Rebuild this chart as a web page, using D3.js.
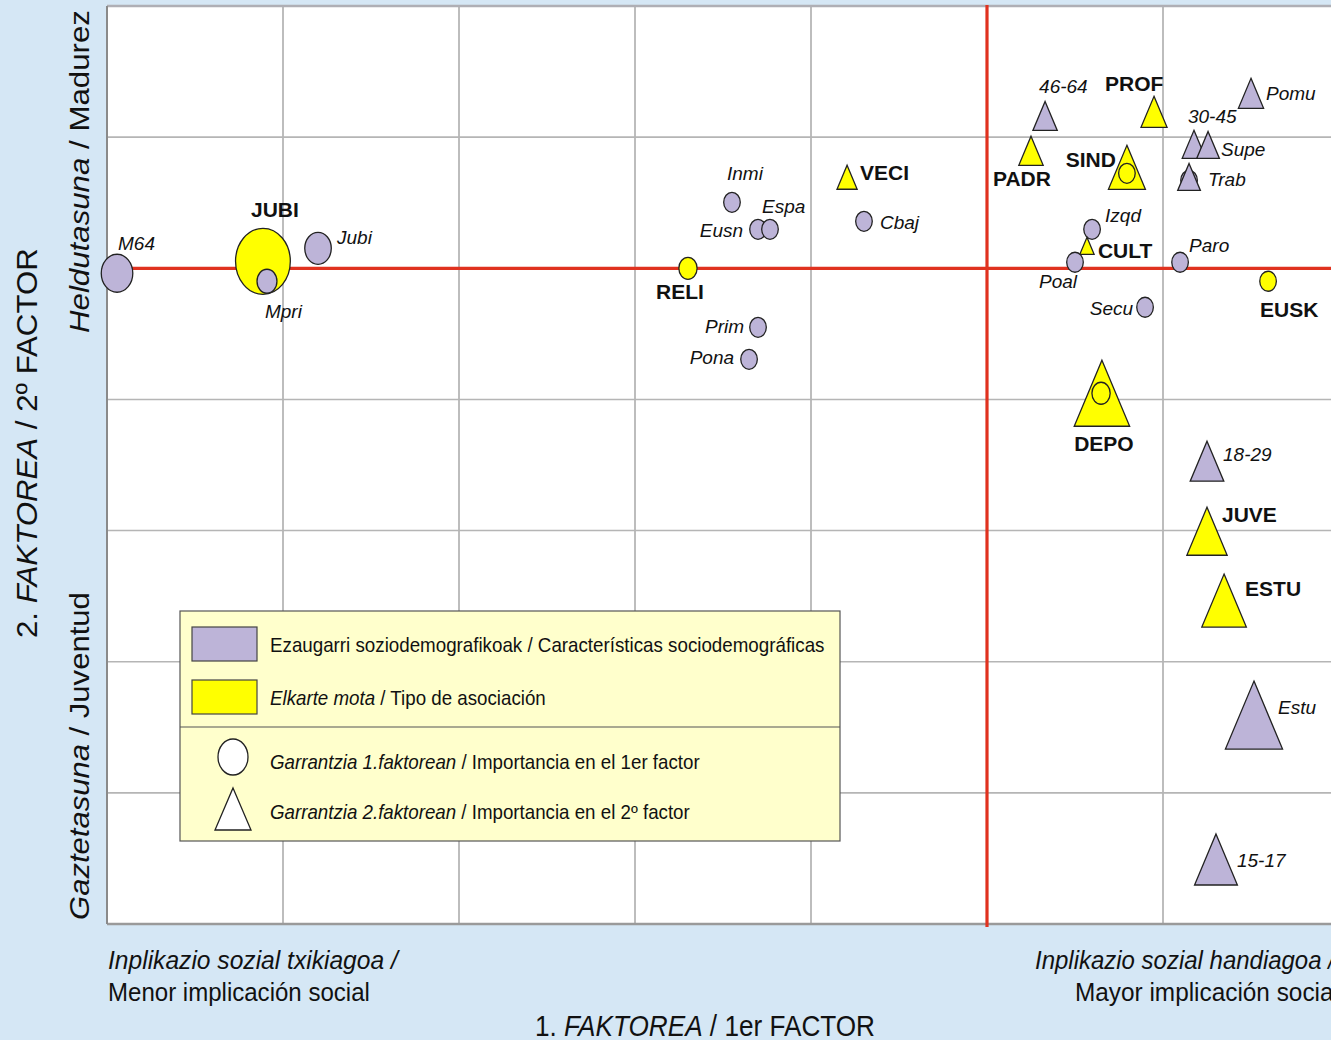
<!DOCTYPE html>
<html><head><meta charset="utf-8">
<script src="https://cdn.jsdelivr.net/npm/d3@7"></script>
<style>html,body{margin:0;padding:0;background:#D5E7F5;overflow:hidden}</style>
</head><body>
<svg id="chart" width="1331" height="1040"></svg>
<script>
// ---------- DATA ----------
const names   = ["M64","JUBI","Mpri","Jubi","RELI","Inmi","Eusn","Espa","Prim","Pona","Cbaj","VECI","46-64","PADR","PROF","SIND","Izqd","CULT","Poal","Secu","Trab","30-45","Supe","Pomu","Paro","EUSK","DEPO","18-29","JUVE","ESTU","Estu","15-17"];
const groups  = ["socio","assoc","socio","socio","assoc","socio","socio","socio","socio","socio","socio","assoc","socio","assoc","assoc","assoc","socio","assoc","socio","socio","socio","socio","socio","socio","socio","assoc","assoc","socio","assoc","assoc","socio","socio"];
const shapes  = ["c","c","c","c","c","c","c","c","c","c","c","t","t","t","t","t","c","t","c","c","t","t","t","t","c","c","t","t","t","t","t","t"];
const factor1 = [-4.943,-4.114,-4.091,-3.801,-1.699,-1.449,-1.301,-1.233,-1.301,-1.352,-0.699,-0.795,0.330,0.250,0.949,0.795,0.597,0.568,0.500,0.898,1.148,1.176,1.256,1.500,1.097,1.597,0.653,1.250,1.250,1.347,1.517,1.301];
const factor2 = [-0.038,0.053,-0.099,0.152,0.000,0.503,0.297,0.297,-0.450,-0.694,0.358,0.694,1.162,0.896,1.193,0.770,0.297,0.171,0.046,-0.297,0.697,0.945,0.941,1.334,0.046,-0.099,-0.953,-1.471,-2.005,-2.534,-3.407,-4.508];
const contrib = [7.6,13.2,4.8,6.4,4.4,4.0,4.0,4.0,4.0,4.0,4.0,4.8,5.8,5.8,6.2,8.8,4.0,3.4,4.0,4.0,5.4,5.6,5.4,6.0,4.0,4.0,13.2,8.0,9.6,10.6,13.6,10.2];

// secondary circles (importance on 1st factor) for points also shown as triangles
const dualNames   = ["Trab","SIND","DEPO"];
const dualGroups  = ["socio","assoc","assoc"];
const dualFactor1 = [1.148,0.795,0.648];
const dualFactor2 = [0.671,0.724,-0.953];
const dualContrib = [4.0,4.0,4.4];
const dualOnTop   = [false,true,true];

const gridX = [-4,-3,-2,-1,1];
const gridY = [1,-1,-2,-3,-4];

const legendItems = [
  [{t:"Ezaugarri soziodemografikoak / Características sociodemográficas"}],
  [{t:"Elkarte mota",i:true},{t:" / Tipo de asociación"}],
  [{t:"Garrantzia 1.faktorean",i:true},{t:" / Importancia en el 1er factor"}],
  [{t:"Garrantzia 2.faktorean",i:true},{t:" / Importancia en el 2º factor"}]
];

// ---------- LAYOUT ----------
const labelLayout = {
  "M64":[1,-23,"start"],"JUBI":[12,-44,"middle"],"Mpri":[-2,37,"start"],"Jubi":[19,-4,"start"],
  "RELI":[-32,31,"start"],"Inmi":[-5,-22,"start"],"Eusn":[-15,8,"end"],"Espa":[-8,-16,"start"],
  "Prim":[-14,6,"end"],"Pona":[-15,5,"end"],"Cbaj":[16,8,"start"],"VECI":[13,3,"start"],
  "46-64":[-6,-23,"start"],"PADR":[-38,35,"start"],"PROF":[-49,-21,"start"],"SIND":[-11,0,"end"],
  "Izqd":[13,-7,"start"],"CULT":[11,12,"start"],"Poal":[-36,26,"start"],"Secu":[-12,8,"end"],
  "Trab":[19,9,"start"],"30-45":[-6,-21,"start"],"Supe":[13,11,"start"],"Pomu":[15,7,"start"],
  "Paro":[9,-10,"start"],"EUSK":[-8,36,"start"],"DEPO":[2,58,"middle"],"18-29":[16,0,"start"],
  "JUVE":[15,-9,"start"],"ESTU":[21,-5,"start"],"Estu":[24,-1,"start"],"15-17":[21,8,"start"]
};
const FONT = "'Liberation Sans', Arial, Helvetica, sans-serif";
const fillOf = {socio:"#BDB4D8", assoc:"#FFFF00"};

const svg = d3.select("#chart");
const W = 1331, H = 1040;
const x = d3.scaleLinear().domain([-5,2]).range([107,1339]);
const y = d3.scaleLinear().domain([-5,2]).range([924,6]);
const rS = d3.scaleLinear().domain([0,10]).range([0,25]);

svg.append("rect").attr("width",W).attr("height",H).attr("fill","#D5E7F5");
svg.append("rect").attr("x",x(-5)).attr("y",y(2)).attr("width",x(2)-x(-5)).attr("height",y(-5)-y(2)).attr("fill","#fff");

// grid
svg.append("g").selectAll("line").data(gridX).join("line")
  .attr("x1",d=>x(d)).attr("x2",d=>x(d)).attr("y1",y(2)).attr("y2",y(-5))
  .attr("stroke","#BDBDBD").attr("stroke-width",2);
svg.append("g").selectAll("line").data(gridY).join("line")
  .attr("x1",x(-5)).attr("x2",x(2)).attr("y1",d=>y(d)).attr("y2",d=>y(d))
  .attr("stroke","#B5B5B5").attr("stroke-width",1.6);
// frame
svg.append("line").attr("x1",x(-5)).attr("x2",x(2)).attr("y1",y(2)).attr("y2",y(2)).attr("stroke","#AFAFB5").attr("stroke-width",2.5);
svg.append("line").attr("x1",x(-5)).attr("x2",x(2)).attr("y1",y(-5)).attr("y2",y(-5)).attr("stroke","#9A9A9A").attr("stroke-width",2.5);
svg.append("line").attr("x1",x(-5)).attr("x2",x(-5)).attr("y1",y(2)).attr("y2",y(-5)).attr("stroke","#8A8A8A").attr("stroke-width",2);
// red axes
svg.append("line").attr("x1",x(-5)).attr("x2",x(2)).attr("y1",y(0)).attr("y2",y(0)).attr("stroke","#E0321F").attr("stroke-width",3.2);
svg.append("line").attr("x1",x(0)).attr("x2",x(0)).attr("y1",y(2)-1).attr("y2",y(-5)+3).attr("stroke","#E0321F").attr("stroke-width",3.2);

// marks
const pts = names.map((n,i)=>({name:n,group:groups[i],shape:shapes[i],f1:factor1[i],f2:factor2[i],c:contrib[i]}));
const duals = dualNames.map((n,i)=>({name:n,group:dualGroups[i],shape:"c",f1:dualFactor1[i],f2:dualFactor2[i],c:dualContrib[i],top:dualOnTop[i]}));

function drawMark(g, d){
  const cx = x(d.f1), cy = y(d.f2);
  if(d.shape==="c"){
    const ry = rS(d.c), rx = ry*0.83;
    g.append("ellipse").attr("cx",cx).attr("cy",cy).attr("rx",rx).attr("ry",ry)
      .attr("fill",d.top?"none":fillOf[d.group]).attr("stroke","#222").attr("stroke-width",1.3);
  } else {
    const h = 2*rS(d.c), hw = h*0.42;
    g.append("path").attr("d",`M${cx},${cy-h/2}L${cx+hw},${cy+h/2}L${cx-hw},${cy+h/2}Z`)
      .attr("fill",fillOf[d.group]).attr("stroke","#222").attr("stroke-width",1.3).attr("stroke-linejoin","miter");
  }
}
const gm = svg.append("g");
duals.filter(d=>!d.top).forEach(d=>drawMark(gm,d));
pts.forEach(d=>drawMark(gm,d));
duals.filter(d=>d.top).forEach(d=>drawMark(gm,d));

// labels
const gl = svg.append("g");
pts.forEach(d=>{
  const L = labelLayout[d.name];
  const bold = d.group==="assoc";
  gl.append("text").attr("x",x(d.f1)+L[0]).attr("y",y(d.f2)+L[1]).attr("text-anchor",L[2])
    .attr("font-family",FONT).attr("font-size",bold?21:19)
    .attr("font-weight",bold?"bold":"normal").attr("font-style",bold?"normal":"italic")
    .attr("fill","#111").text(d.name);
});

// fitted (condensed) text helper
function fitted(parent, px, py, parts, size, target, anchor, rot){
  const g = parent.append("g");
  const t = g.append("text").attr("font-family",FONT).attr("font-size",size).attr("fill","#111").attr("x",0).attr("y",0);
  parts.forEach(p=>t.append("tspan").attr("font-style",p.i?"italic":"normal").text(p.t));
  const w = t.node().getComputedTextLength();
  const k = target/w;
  const tx = anchor==="end" ? -target : anchor==="middle" ? -target/2 : 0;
  g.attr("transform",`translate(${px},${py}) rotate(${rot||0}) translate(${tx},0) scale(${k},1)`);
}

// legend
const lg = svg.append("g");
lg.append("rect").attr("x",180).attr("y",611).attr("width",660).attr("height",230).attr("fill","#FFFFCC").attr("stroke","#555").attr("stroke-width",1.2);
lg.append("line").attr("x1",180).attr("x2",840).attr("y1",727).attr("y2",727).attr("stroke","#555").attr("stroke-width",1.2);
lg.append("rect").attr("x",192).attr("y",627).attr("width",65).attr("height",34).attr("fill",fillOf.socio).attr("stroke","#444").attr("stroke-width",1.2);
lg.append("rect").attr("x",192).attr("y",680).attr("width",65).attr("height",34).attr("fill",fillOf.assoc).attr("stroke","#444").attr("stroke-width",1.2);
lg.append("ellipse").attr("cx",233).attr("cy",757).attr("rx",15).attr("ry",18).attr("fill","#fff").attr("stroke","#222").attr("stroke-width",1.3);
lg.append("path").attr("d","M233,788L251,830L215,830Z").attr("fill","#fff").attr("stroke","#222").attr("stroke-width",1.3);
const legPos = [[652,555],[705,276],[769,430],[819,420]];
legendItems.forEach((parts,i)=>fitted(lg,270,legPos[i][0],parts,20,legPos[i][1],"start",0));

// axis texts
const ga = svg.append("g");
fitted(ga,108,969,[{t:"Inplikazio sozial  txikiagoa /",i:true}],26,290,"start",0);
fitted(ga,108,1001,[{t:"Menor implicación social"}],26,262,"start",0);
fitted(ga,1035,969,[{t:"Inplikazio sozial handiagoa /",i:true}],26,300,"start",0);
fitted(ga,1075,1001,[{t:"Mayor implicación social"}],26,264,"start",0);
fitted(ga,535,1036,[{t:"1. "},{t:"FAKTOREA",i:true},{t:" / 1er FACTOR"}],29,340,"start",0);
fitted(ga,37,638,[{t:"2. "},{t:"FAKTOREA",i:true},{t:" / 2º FACTOR"}],29,390,"start",-90);
fitted(ga,89,333,[{t:"Heldutasuna",i:true},{t:" / Madurez"}],27,323,"start",-90);
fitted(ga,89,920,[{t:"Gaztetasuna",i:true},{t:" / Juventud"}],27,328,"start",-90);
</script>
</body></html>
